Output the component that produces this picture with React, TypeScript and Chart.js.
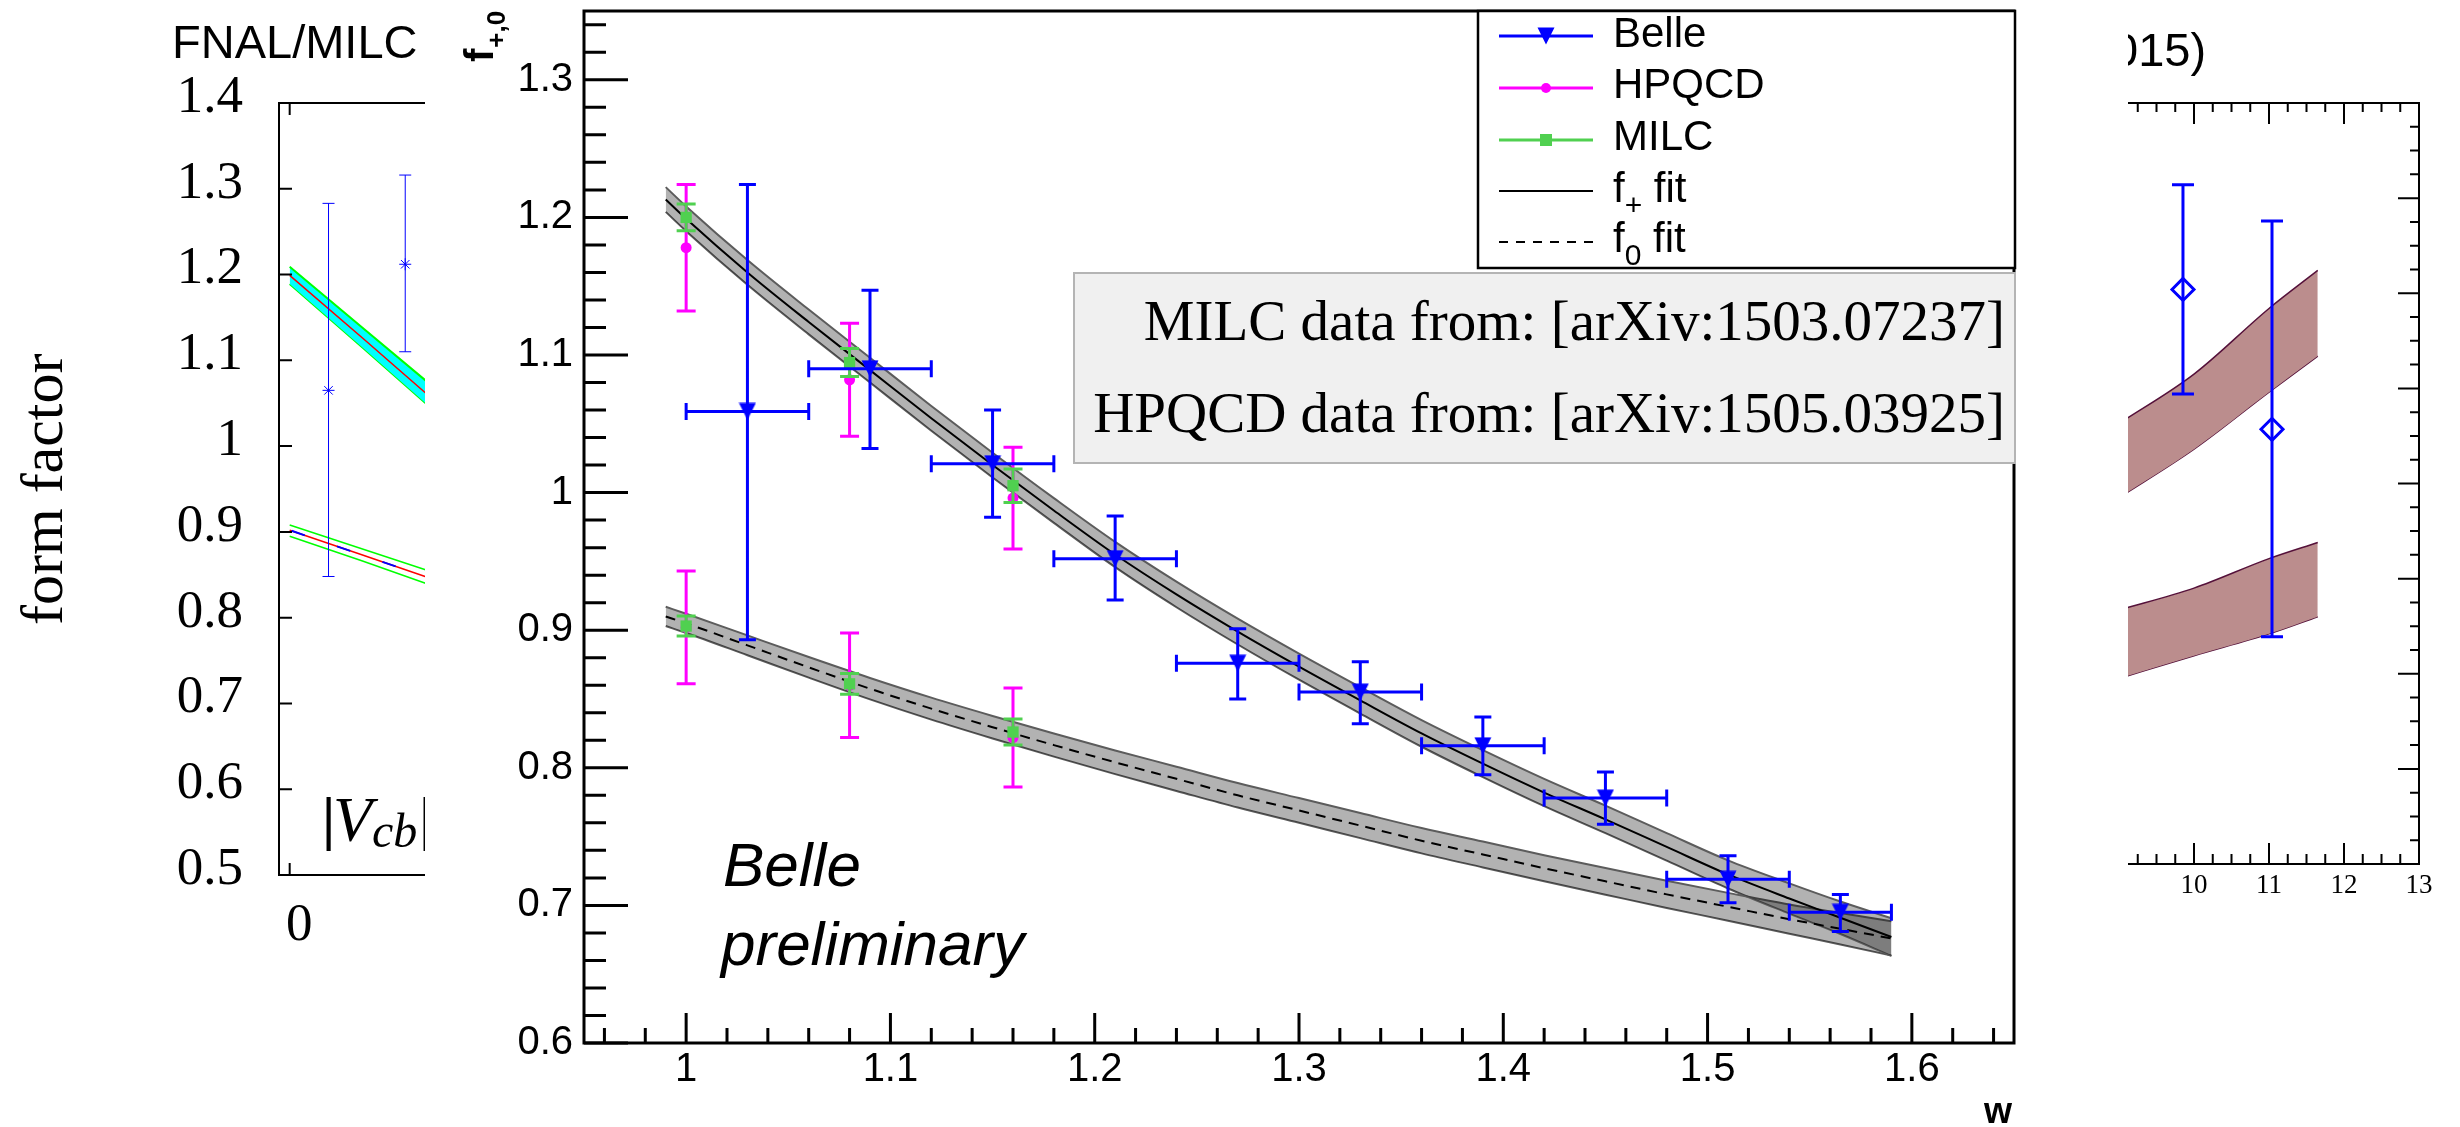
import React, { useEffect, useRef } from 'react';
import { Chart, registerables } from 'chart.js';

Chart.register(...registerables);

const SANS = '"Liberation Sans", Arial, Helvetica, sans-serif';
const SERIF = '"Liberation Serif", "Times New Roman", serif';
const BLUE = '#0000ff';
const MAGENTA = '#ff00ff';
const GREEN = '#50d050';
const BAND_FILL = 'rgba(0,0,0,0.3)';
const BAND_EDGE = '#5c5c5c';

// ================= Main panel: f+,0 versus w =================
const belleW = [1.03, 1.09, 1.15, 1.21, 1.27, 1.33, 1.39, 1.45, 1.51, 1.565];
const belleWLow = [1.0, 1.06, 1.12, 1.18, 1.24, 1.3, 1.36, 1.42, 1.48, 1.54];
const belleWHigh = [1.06, 1.12, 1.18, 1.24, 1.3, 1.36, 1.42, 1.48, 1.54, 1.59];
const belleFplus = [1.059, 1.09, 1.021, 0.952, 0.876, 0.855, 0.816, 0.778, 0.719, 0.695];
const belleFplusLow = [0.893, 1.032, 0.982, 0.922, 0.85, 0.832, 0.795, 0.759, 0.702, 0.681];
const belleFplusHigh = [1.224, 1.147, 1.06, 0.983, 0.901, 0.877, 0.837, 0.797, 0.736, 0.708];

const latticeW = [1.0, 1.08, 1.16];
const hpqcdFplus = [1.178, 1.082, 0.996];
const hpqcdFplusErr = [0.046, 0.041, 0.037];
const hpqcdFzero = [0.902, 0.86, 0.822];
const hpqcdFzeroErr = [0.041, 0.038, 0.036];
const milcFplus = [1.2, 1.0945, 1.005];
const milcFplusErr = [0.0097, 0.0102, 0.0122];
const milcFzero = [0.903, 0.861, 0.826];
const milcFzeroErr = [0.0073, 0.0075, 0.0094];

const fitW = [0.99, 1.0, 1.03, 1.06, 1.09, 1.12, 1.15, 1.18, 1.21, 1.24, 1.27, 1.3, 1.33, 1.36, 1.39, 1.42, 1.45, 1.48, 1.51, 1.54, 1.565, 1.59];
const fPlusFit = [1.213, 1.199, 1.16, 1.124, 1.089, 1.054, 1.02, 0.987, 0.955, 0.926, 0.899, 0.8735, 0.849, 0.825, 0.803, 0.782, 0.7625, 0.7425, 0.7225, 0.705, 0.691, 0.677];
const fPlusHalfWidth = [0.009, 0.009, 0.009, 0.009, 0.009, 0.009, 0.009, 0.009, 0.0092, 0.0093, 0.0094, 0.0095, 0.0096, 0.0097, 0.0098, 0.0099, 0.01, 0.01, 0.0102, 0.011, 0.0118, 0.0137];
const fZeroFit = [0.91, 0.905, 0.889, 0.873, 0.8575, 0.843, 0.8295, 0.8165, 0.804, 0.792, 0.78, 0.769, 0.758, 0.747, 0.737, 0.727, 0.7175, 0.708, 0.699, 0.69, 0.683, 0.676];
const fZeroHalfWidth = [0.007, 0.007, 0.0072, 0.0075, 0.0078, 0.008, 0.0082, 0.0084, 0.0086, 0.0088, 0.0089, 0.009, 0.0091, 0.0092, 0.0094, 0.0095, 0.0097, 0.0099, 0.0101, 0.0106, 0.0114, 0.0125];

const mainXTicks = [1, 1.1, 1.2, 1.3, 1.4, 1.5, 1.6];
const mainXTickLabels = ['1', '1.1', '1.2', '1.3', '1.4', '1.5', '1.6'];
const mainYTicks = [0.6, 0.7, 0.8, 0.9, 1.0, 1.1, 1.2, 1.3];
const mainYTickLabels = ['0.6', '0.7', '0.8', '0.9', '1', '1.1', '1.2', '1.3'];

const legendEntries = [
  { kind: 'belle', main: 'Belle', sub: '', rest: '' },
  { kind: 'hpqcd', main: 'HPQCD', sub: '', rest: '' },
  { kind: 'milc', main: 'MILC', sub: '', rest: '' },
  { kind: 'fplus', main: 'f', sub: '+', rest: ' fit' },
  { kind: 'fzero', main: 'f', sub: '0', rest: ' fit' },
];
const sourceNotes = ['MILC data from: [arXiv:1503.07237]', 'HPQCD data from: [arXiv:1505.03925]'];

// ================= Left panel (FNAL/MILC, partly hidden) =================
const leftBandX = [0, 0.375, 0.75];
const leftUpperTop = [1.209, 1.138, 1.067];
const leftUpperBottom = [1.189, 1.115, 1.04];
const leftUpperCentral = [1.199, 1.126, 1.052];
const leftLowerTop = [0.908, 0.88, 0.852];
const leftLowerBottom = [0.895, 0.866, 0.836];
const leftLowerCentral = [0.902, 0.873, 0.844];
const leftPointX = [0.2, 0.595];
const leftPointY = [1.065, 1.212];
const leftPointLow = [0.848, 1.11];
const leftPointHigh = [1.283, 1.316];
const leftYTicks = [0.5, 0.6, 0.7, 0.8, 0.9, 1.0, 1.1, 1.2, 1.3, 1.4];
const leftYTickLabels = ['0.5', '0.6', '0.7', '0.8', '0.9', '1', '1.1', '1.2', '1.3', '1.4'];
const leftXTicks = [0];
const leftXTickLabels = ['0'];

// ================= Right panel (partly hidden) =================
const rightBandX = [9.0, 10, 11, 11.65];
const rightUpperTop = [0.963, 1.015, 1.084, 1.124];
const rightUpperBottom = [0.885, 0.936, 0.996, 1.034];
const rightLowerTop = [0.767, 0.79, 0.821, 0.838];
const rightLowerBottom = [0.695, 0.719, 0.742, 0.76];
const rightPointX = [9.853, 11.04];
const rightPointY = [1.104, 0.957];
const rightPointLow = [0.994, 0.739];
const rightPointHigh = [1.214, 1.176];
const rightXTicks = [10, 11, 12, 13];
const rightXTickLabels = ['10', '11', '12', '13'];

// ---------- shared pieces ----------
const baseOptions: any = {
  responsive: false,
  maintainAspectRatio: false,
  animation: false,
  devicePixelRatio: 1,
  events: [],
  plugins: { legend: { display: false }, tooltip: { enabled: false }, title: { display: false } },
};

const errorBarPlugin = {
  id: 'errorBars',
  beforeDatasetDraw(chart: any, args: any) {
    const ds = chart.data.datasets[args.index];
    const eb = ds && ds.errorBar;
    if (!eb) return;
    const xs = chart.scales.x;
    const ys = chart.scales.y;
    const ctx = chart.ctx;
    const h = eb.cap / 2;
    ctx.save();
    ctx.strokeStyle = eb.color;
    ctx.lineWidth = eb.width;
    ctx.lineCap = 'butt';
    ctx.beginPath();
    for (const p of ds.data) {
      const px = xs.getPixelForValue(p.x);
      const py = ys.getPixelForValue(p.y);
      if (p.yMin !== undefined) {
        const y1 = ys.getPixelForValue(p.yMin);
        const y2 = ys.getPixelForValue(p.yMax);
        ctx.moveTo(px, y1); ctx.lineTo(px, y2);
        ctx.moveTo(px - h, y1); ctx.lineTo(px + h, y1);
        ctx.moveTo(px - h, y2); ctx.lineTo(px + h, y2);
      }
      if (p.xMin !== undefined) {
        const x1 = xs.getPixelForValue(p.xMin);
        const x2 = xs.getPixelForValue(p.xMax);
        ctx.moveTo(x1, py); ctx.lineTo(x2, py);
        ctx.moveTo(x1, py - h); ctx.lineTo(x1, py + h);
        ctx.moveTo(x2, py - h); ctx.lineTo(x2, py + h);
      }
    }
    ctx.stroke();
    ctx.restore();
  },
};

function fixedTicks(values: number[]) {
  return (s: any) => { s.ticks = values.map((v) => ({ value: v })); };
}

function sizeFit(prop: 'width' | 'height', size: number) {
  return (s: any) => {
    s[prop] = size;
    s.paddingTop = 0; s.paddingBottom = 0; s.paddingLeft = 0; s.paddingRight = 0;
  };
}

function axisCfg(extra: any) {
  return {
    type: 'linear',
    grid: { display: false, drawTicks: false },
    border: { display: false },
    ...extra,
  };
}

// ---------- main chart ----------
function buildMain(canvas: HTMLCanvasElement) {
  const OX = 425; // canvas left offset on page
  const tri = document.createElement('canvas');
  tri.width = 18; tri.height = 18;
  const tc = tri.getContext('2d')!;
  tc.fillStyle = BLUE;
  tc.beginPath(); tc.moveTo(0.5, 0.5); tc.lineTo(17.5, 0.5); tc.lineTo(9, 17.5); tc.closePath(); tc.fill();

  const belleData = belleW.map((w, i) => ({ x: w, y: belleFplus[i], xMin: belleWLow[i], xMax: belleWHigh[i], yMin: belleFplusLow[i], yMax: belleFplusHigh[i] }));
  const hpqcdData = [
    ...latticeW.map((w, i) => ({ x: w, y: hpqcdFplus[i], yMin: hpqcdFplus[i] - hpqcdFplusErr[i], yMax: hpqcdFplus[i] + hpqcdFplusErr[i] })),
    ...latticeW.map((w, i) => ({ x: w, y: hpqcdFzero[i], yMin: hpqcdFzero[i] - hpqcdFzeroErr[i], yMax: hpqcdFzero[i] + hpqcdFzeroErr[i] })),
  ];
  const milcData = [
    ...latticeW.map((w, i) => ({ x: w, y: milcFplus[i], yMin: milcFplus[i] - milcFplusErr[i], yMax: milcFplus[i] + milcFplusErr[i] })),
    ...latticeW.map((w, i) => ({ x: w, y: milcFzero[i], yMin: milcFzero[i] - milcFzeroErr[i], yMax: milcFzero[i] + milcFzeroErr[i] })),
  ];
  const curve = (vals: number[]) => fitW.map((w, i) => ({ x: w, y: vals[i] }));
  const edge = (vals: number[], hw: number[], s: number) => fitW.map((w, i) => ({ x: w, y: vals[i] + s * hw[i] }));
  const lineDs = (data: any[], extra: any) => ({ type: 'line', data, pointRadius: 0, cubicInterpolationMode: 'monotone', fill: false, ...extra });

  const decor = {
    id: 'mainDecor',
    afterDraw(chart: any) {
      const { ctx, chartArea: a } = chart;
      const xs = chart.scales.x;
      const ys = chart.scales.y;
      ctx.save();
      ctx.strokeStyle = '#000';
      ctx.lineWidth = 3;
      ctx.beginPath();
      for (let k = 0; k <= 37; k++) {
        const py = ys.getPixelForValue(0.6 + 0.02 * k);
        ctx.moveTo(a.left, py); ctx.lineTo(a.left + (k % 5 === 0 ? 44 : 22), py);
      }
      for (let k = 0; k <= 34; k++) {
        const px = xs.getPixelForValue(0.96 + 0.02 * k);
        ctx.moveTo(px, a.bottom); ctx.lineTo(px, a.bottom - ((k - 2) % 5 === 0 ? 30 : 15));
      }
      ctx.stroke();
      ctx.strokeRect(a.left, a.top, a.right - a.left, a.bottom - a.top);

      // axis titles
      ctx.fillStyle = '#000';
      ctx.textBaseline = 'alphabetic';
      ctx.save();
      ctx.translate(493 - OX, 62);
      ctx.rotate(-Math.PI / 2);
      ctx.font = `bold 40px ${SANS}`;
      ctx.textAlign = 'left';
      ctx.fillText('f', 0, 0);
      const fw = ctx.measureText('f').width;
      ctx.font = `bold 26px ${SANS}`;
      ctx.fillText('+,0', fw + 1, 12);
      ctx.restore();
      ctx.font = `bold 36px ${SANS}`;
      ctx.textAlign = 'right';
      ctx.fillText('w', 2012 - OX, 1123);

      // source note box
      ctx.fillStyle = '#f0f0f0';
      ctx.fillRect(1074 - OX, 273, 2015 - 1074, 463 - 273);
      ctx.strokeStyle = '#b4b4b4';
      ctx.lineWidth = 2;
      ctx.strokeRect(1074 - OX, 273, 2015 - 1074, 463 - 273);
      ctx.fillStyle = '#000';
      ctx.font = `57px ${SERIF}`;
      ctx.textAlign = 'right';
      ctx.fillText(sourceNotes[0], 2005 - OX, 340);
      ctx.fillText(sourceNotes[1], 2005 - OX, 432);

      // legend
      const bx = 1478 - OX, by = 11, bw = 2015 - 1478, bh = 257;
      ctx.fillStyle = '#fff';
      ctx.fillRect(bx, by, bw, bh);
      ctx.strokeStyle = '#000';
      ctx.lineWidth = 2.5;
      ctx.strokeRect(bx, by, bw, bh);
      const lx0 = 1499 - OX, lx1 = 1593 - OX, lmx = 1546 - OX, ltx = 1613 - OX;
      const lineY = [36, 88, 140, 191, 242];
      const baseY = [47, 98, 150, 202, 252];
      legendEntries.forEach((e, i) => {
        const y = lineY[i];
        ctx.save();
        ctx.lineWidth = e.kind === 'fplus' || e.kind === 'fzero' ? 2 : 3;
        ctx.strokeStyle = e.kind === 'belle' ? BLUE : e.kind === 'hpqcd' ? MAGENTA : e.kind === 'milc' ? GREEN : '#000';
        if (e.kind === 'fzero') ctx.setLineDash([9, 8]);
        ctx.beginPath(); ctx.moveTo(lx0, y); ctx.lineTo(lx1, y); ctx.stroke();
        ctx.restore();
        if (e.kind === 'belle') ctx.drawImage(tri, lmx - 9, y - 9);
        if (e.kind === 'hpqcd') { ctx.fillStyle = MAGENTA; ctx.beginPath(); ctx.arc(lmx, y, 5, 0, Math.PI * 2); ctx.fill(); }
        if (e.kind === 'milc') { ctx.fillStyle = GREEN; ctx.fillRect(lmx - 6, y - 6, 12, 12); }
        ctx.fillStyle = '#000';
        ctx.textAlign = 'left';
        ctx.font = `42px ${SANS}`;
        ctx.fillText(e.main, ltx, baseY[i]);
        if (e.sub) {
          const w1 = ctx.measureText(e.main).width;
          ctx.font = `30px ${SANS}`;
          ctx.fillText(e.sub, ltx + w1, baseY[i] + 13);
          const w2 = ctx.measureText(e.sub).width;
          ctx.font = `42px ${SANS}`;
          ctx.fillText(e.rest, ltx + w1 + w2, baseY[i]);
        }
      });

      // Belle preliminary
      ctx.font = `italic 62px ${SANS}`;
      ctx.textAlign = 'left';
      ctx.fillStyle = '#000';
      ctx.fillText('Belle', 723 - OX, 886);
      ctx.fillText('preliminary', 721 - OX, 965);
      ctx.restore();
    },
  };

  return new Chart(canvas, {
    type: 'scatter',
    data: {
      datasets: [
        { label: 'Belle', data: belleData, pointStyle: tri, pointRadius: 9, borderWidth: 0, backgroundColor: BLUE, borderColor: BLUE, errorBar: { color: BLUE, width: 3, cap: 17 } },
        { label: 'MILC', data: milcData, pointStyle: 'rect', pointRadius: 8, borderWidth: 0, backgroundColor: GREEN, borderColor: GREEN, errorBar: { color: GREEN, width: 3, cap: 19 } },
        { label: 'HPQCD', data: hpqcdData, pointStyle: 'circle', pointRadius: 5.5, borderWidth: 0, backgroundColor: MAGENTA, borderColor: MAGENTA, errorBar: { color: MAGENTA, width: 3, cap: 19 } },
        lineDs(curve(fPlusFit), { label: 'f+ fit', borderColor: '#000', borderWidth: 2 }),
        lineDs(curve(fZeroFit), { label: 'f0 fit', borderColor: '#000', borderWidth: 2, borderDash: [10, 7] }),
        lineDs(edge(fPlusFit, fPlusHalfWidth, 1), { label: 'f+ band', borderColor: BAND_EDGE, borderWidth: 2, fill: '+1', backgroundColor: BAND_FILL }),
        lineDs(edge(fPlusFit, fPlusHalfWidth, -1), { label: 'f+ band low', borderColor: BAND_EDGE, borderWidth: 2 }),
        lineDs(edge(fZeroFit, fZeroHalfWidth, 1), { label: 'f0 band', borderColor: BAND_EDGE, borderWidth: 2, fill: '+1', backgroundColor: BAND_FILL }),
        lineDs(edge(fZeroFit, fZeroHalfWidth, -1), { label: 'f0 band low', borderColor: BAND_EDGE, borderWidth: 2 }),
      ] as any,
    },
    options: {
      ...baseOptions,
      layout: { padding: { left: 0, right: 1703 - 1589, top: 11, bottom: 0 } },
      scales: {
        x: axisCfg({
          position: 'bottom', min: 0.95, max: 1.65,
          afterBuildTicks: fixedTicks(mainXTicks),
          afterFit: sizeFit('height', 1127 - 1043),
          ticks: { autoSkip: false, maxRotation: 0, minRotation: 0, padding: 7, color: '#000', font: { family: SANS, size: 40, lineHeight: 1 }, callback: (_v: any, i: number) => mainXTickLabels[i] },
        }),
        y: axisCfg({
          position: 'left', min: 0.6, max: 1.35,
          afterBuildTicks: fixedTicks(mainYTicks),
          afterFit: sizeFit('width', 584 - OX),
          ticks: { autoSkip: false, padding: 11, color: '#000', font: { family: SANS, size: 40, lineHeight: 1 }, callback: (_v: any, i: number) => mainYTickLabels[i] },
        }),
      },
    },
    plugins: [errorBarPlugin, decor],
  } as any);
}

// ---------- left chart ----------
function buildLeft(canvas: HTMLCanvasElement) {
  const pts = leftPointX.map((x, i) => ({ x, y: leftPointY[i], yMin: leftPointLow[i], yMax: leftPointHigh[i] }));
  const line = (vals: number[]) => leftBandX.map((x, i) => ({ x, y: vals[i] }));
  const lineDs = (data: any[], extra: any) => ({ type: 'line', data, pointRadius: 0, fill: false, ...extra });

  const decor = {
    id: 'leftDecor',
    afterDraw(chart: any) {
      const { ctx, chartArea: a } = chart;
      const xs = chart.scales.x;
      const ys = chart.scales.y;
      ctx.save();
      ctx.strokeStyle = '#000';
      ctx.lineWidth = 2;
      ctx.beginPath();
      leftYTicks.forEach((v) => { const py = ys.getPixelForValue(v); ctx.moveTo(a.left, py); ctx.lineTo(a.left + 13, py); });
      leftXTicks.forEach((v) => {
        const px = xs.getPixelForValue(v);
        ctx.moveTo(px, a.bottom); ctx.lineTo(px, a.bottom - 12);
        ctx.moveTo(px, a.top); ctx.lineTo(px, a.top + 12);
      });
      ctx.stroke();
      ctx.strokeRect(a.left, a.top, a.right - a.left, a.bottom - a.top);

      ctx.fillStyle = '#000';
      ctx.textAlign = 'left';
      ctx.textBaseline = 'alphabetic';
      ctx.font = `47px ${SANS}`;
      ctx.fillText('FNAL/MILC', 172, 58);

      ctx.save();
      ctx.translate(62, 625);
      ctx.rotate(-Math.PI / 2);
      ctx.font = `60px ${SERIF}`;
      ctx.fillText('form factor', 0, 0);
      ctx.restore();

      ctx.font = `bold 60px ${SERIF}`;
      ctx.fillText('|', 322, 838);
      ctx.font = `italic 64px ${SERIF}`;
      ctx.fillText('V', 333, 841);
      ctx.font = `italic 48px ${SERIF}`;
      ctx.fillText('cb', 372, 847);
      ctx.font = `bold 60px ${SERIF}`;
      ctx.fillText('|', 419, 838);
      ctx.restore();
    },
  };

  return new Chart(canvas, {
    type: 'scatter',
    data: {
      datasets: [
        { label: 'FNAL/MILC points', data: pts, pointStyle: 'star', pointRadius: 6, borderWidth: 1, borderColor: BLUE, backgroundColor: BLUE, errorBar: { color: BLUE, width: 1, cap: 12 } },
        lineDs(line(leftLowerCentral), { borderColor: BLUE, borderWidth: 2, borderDash: [14, 34], borderDashOffset: -2 }),
        lineDs(line(leftUpperCentral), { borderColor: '#ff0000', borderWidth: 1.5 }),
        lineDs(line(leftLowerCentral), { borderColor: '#ff0000', borderWidth: 1.5 }),
        lineDs(line(leftUpperTop), { borderColor: '#00ff00', borderWidth: 2, fill: '+1', backgroundColor: '#00ffff' }),
        lineDs(line(leftUpperBottom), { borderColor: '#00ff00', borderWidth: 2 }),
        lineDs(line(leftLowerTop), { borderColor: '#00ff00', borderWidth: 1.5 }),
        lineDs(line(leftLowerBottom), { borderColor: '#00ff00', borderWidth: 1.5 }),
      ] as any,
    },
    options: {
      ...baseOptions,
      layout: { padding: { left: 0, right: 0, top: 103, bottom: 0 } },
      scales: {
        x: axisCfg({
          position: 'bottom', min: -0.055, max: 1.15,
          afterBuildTicks: fixedTicks(leftXTicks),
          afterFit: sizeFit('height', 1127 - 875),
          ticks: { autoSkip: false, maxRotation: 0, minRotation: 0, padding: 25, labelOffset: 9.5, color: '#000', font: { family: SERIF, size: 53, lineHeight: 1 }, callback: (_v: any, i: number) => leftXTickLabels[i] },
        }),
        y: axisCfg({
          position: 'left', min: 0.5, max: 1.4,
          afterBuildTicks: fixedTicks(leftYTicks),
          afterFit: sizeFit('width', 279),
          ticks: { autoSkip: false, padding: 36, labelOffset: -5, color: '#000', font: { family: SERIF, size: 53, lineHeight: 1 }, callback: (_v: any, i: number) => leftYTickLabels[i] },
        }),
      },
    },
    plugins: [errorBarPlugin, decor],
  } as any);
}

// ---------- right chart ----------
function buildRight(canvas: HTMLCanvasElement) {
  const OX = 1960;
  const pts = rightPointX.map((x, i) => ({ x, y: rightPointY[i], yMin: rightPointLow[i], yMax: rightPointHigh[i] }));
  const line = (vals: number[]) => rightBandX.map((x, i) => ({ x, y: vals[i] }));
  const lineDs = (data: any[], extra: any) => ({ type: 'line', data, pointRadius: 0, fill: false, cubicInterpolationMode: 'monotone', borderColor: '#55113a', borderWidth: 1.5, ...extra });
  const ROSE = '#bb8d8d';

  const decor = {
    id: 'rightDecor',
    afterDraw(chart: any) {
      const { ctx, chartArea: a } = chart;
      const xs = chart.scales.x;
      const ys = chart.scales.y;
      ctx.save();
      ctx.strokeStyle = '#000';
      ctx.lineWidth = 2;
      ctx.beginPath();
      for (let k = 0; k <= 22; k++) {
        const px = xs.getPixelForValue(7.5 + 0.25 * k);
        const major = k % 4 === 2;
        ctx.moveTo(px, a.bottom); ctx.lineTo(px, a.bottom - (major ? 21 : 10));
        ctx.moveTo(px, a.top); ctx.lineTo(px, a.top + (major ? 21 : 9));
      }
      for (let k = 0; k <= 32; k++) {
        const py = ys.getPixelForValue(0.5 + 0.025 * k);
        ctx.moveTo(a.right, py); ctx.lineTo(a.right - (k % 4 === 0 ? 21 : 9), py);
      }
      ctx.stroke();
      ctx.strokeRect(a.left, a.top, a.right - a.left, a.bottom - a.top);
      ctx.fillStyle = '#000';
      ctx.textAlign = 'left';
      ctx.textBaseline = 'alphabetic';
      ctx.font = `47px ${SANS}`;
      ctx.fillText('015)', 2112 - OX, 66);
      ctx.restore();
    },
  };

  return new Chart(canvas, {
    type: 'scatter',
    data: {
      datasets: [
        { label: 'points', data: pts, pointStyle: 'rectRot', pointRadius: 11, borderWidth: 3, borderColor: BLUE, backgroundColor: 'rgba(0,0,0,0)', errorBar: { color: BLUE, width: 3, cap: 22 } },
        lineDs(line(rightUpperTop), { fill: '+1', backgroundColor: ROSE }),
        lineDs(line(rightUpperBottom), {}),
        lineDs(line(rightLowerTop), { fill: '+1', backgroundColor: ROSE }),
        lineDs(line(rightLowerBottom), {}),
      ] as any,
    },
    options: {
      ...baseOptions,
      layout: { padding: { left: 0, right: 2460 - 2419, top: 103, bottom: 0 } },
      scales: {
        x: axisCfg({
          position: 'bottom', min: 7.5, max: 13,
          afterBuildTicks: fixedTicks(rightXTicks),
          afterFit: sizeFit('height', 1127 - 864),
          ticks: { autoSkip: false, maxRotation: 0, minRotation: 0, padding: 8.5, color: '#000', font: { family: SERIF, size: 27, lineHeight: 1 }, callback: (_v: any, i: number) => rightXTickLabels[i] },
        }),
        y: axisCfg({
          position: 'left', min: 0.5, max: 1.3,
          afterBuildTicks: fixedTicks([]),
          afterFit: sizeFit('width', 2006.5 - OX),
          ticks: { display: false },
        }),
      },
    },
    plugins: [errorBarPlugin, decor],
  } as any);
}

export default function App() {
  const leftRef = useRef<HTMLCanvasElement | null>(null);
  const mainRef = useRef<HTMLCanvasElement | null>(null);
  const rightRef = useRef<HTMLCanvasElement | null>(null);

  useEffect(() => {
    document.body.style.margin = '0';
    const charts: any[] = [];
    if (leftRef.current) charts.push(buildLeft(leftRef.current));
    if (rightRef.current) charts.push(buildRight(rightRef.current));
    if (mainRef.current) charts.push(buildMain(mainRef.current));
    return () => { charts.forEach((c) => c.destroy()); };
  }, []);

  return (
    <div style={{ position: 'fixed', left: 0, top: 0, width: 2460, height: 1127, background: '#fff', overflow: 'hidden' }}>
      <canvas ref={leftRef} width={520} height={1127} style={{ position: 'absolute', left: 0, top: 0, width: 520, height: 1127 }} />
      <canvas ref={rightRef} width={500} height={1127} style={{ position: 'absolute', left: 1960, top: 0, width: 500, height: 1127 }} />
      <canvas ref={mainRef} width={1703} height={1127} style={{ position: 'absolute', left: 425, top: 0, width: 1703, height: 1127, background: '#fff' }} />
    </div>
  );
}
